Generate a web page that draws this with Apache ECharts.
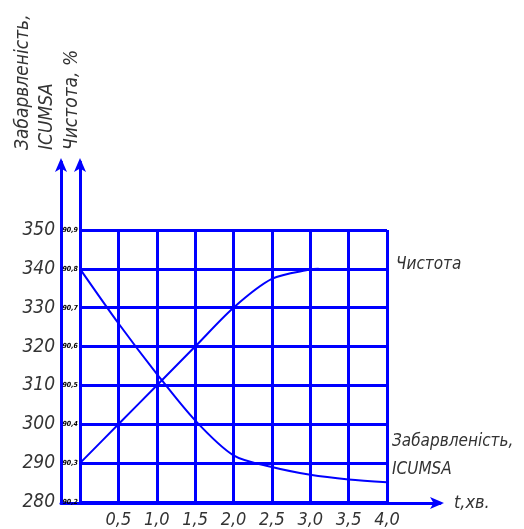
<!DOCTYPE html>
<html>
<head>
<meta charset="utf-8">
<script src="https://cdn.jsdelivr.net/npm/echarts@6/dist/echarts.min.js"></script>
<style>
	html, body { margin: 0; padding: 0; background: #fff; }
	#chart { width: 524px; height: 529px; }
</style>
</head>
<body>
<div id="chart"></div>
<script>
// час, хв
var timeTicks = [0, 0.5, 1.0, 1.5, 2.0, 2.5, 3.0, 3.5, 4.0];
// Забарвленість, ICUMSA
var colorTime = [0, 0.5, 1.0, 1.5, 2.0, 2.5, 3.0, 3.5, 4.0];
var colorValues = [340, 326, 313, 301, 292, 289, 287, 285.8, 285.1];
// Чистота, %
var purityTime = [0, 0.5, 1.0, 1.5, 2.0, 2.5, 3.0, 3.11];
var purityValues = [90.3, 90.4, 90.5, 90.6, 90.7, 90.774, 90.798, 90.8];
// підписи
var colorTicks = [280, 290, 300, 310, 320, 330, 340, 350];
var purityTicks = [90.2, 90.3, 90.4, 90.5, 90.6, 90.7, 90.8, 90.9];

var BLUE = "#0000ff";
var FONT = '"DejaVu Sans Condensed", "Liberation Sans Narrow", "DejaVu Sans", sans-serif';

function pairs(xs, ys) {
	return xs.map(function (x, i) {
		return [x, ys[i]];
	});
}

var myChart = echarts.init(document.getElementById("chart"), null, {
	renderer: "canvas"
});

var arrowLine = {
	show: true,
	symbol: ["none", "arrow"],
	symbolSize: [9, 14],
	symbolOffset: [0, 4],
	lineStyle: { color: BLUE, width: 3 }
};

var option = {
	animation: false,
	grid: [
		// сітка з даними
		{ left: 80, right: 137, top: 230, bottom: 26 },
		// осі зі стрілками
		{ left: 61, right: 84, top: 162, bottom: 26 }
	],
	xAxis: [
		{
			type: "value",
			gridIndex: 0,
			min: 0,
			max: 4,
			interval: 0.5,
			axisLine: { show: false },
			axisTick: { show: false },
			axisLabel: {
				margin: 9,
				fontSize: 18,
				fontStyle: "italic",
				fontFamily: FONT,
				color: "#333",
				formatter: function (v) {
					return v === 0 ? "" : v.toFixed(1).replace(".", ",");
				}
			},
			splitLine: { show: true, lineStyle: { color: BLUE, width: 3 } }
		},
		{
			type: "value",
			gridIndex: 1,
			min: 0,
			max: 1,
			axisLine: arrowLine,
			axisTick: { show: false },
			axisLabel: { show: false },
			splitLine: { show: false },
			name: "t,хв.",
			nameLocation: "end",
			nameGap: 14,
			nameTextStyle: {
				fontSize: 18,
				fontStyle: "italic",
				fontFamily: FONT,
				color: "#333",
				verticalAlign: "middle"
			}
		}
	],
	yAxis: [
		{
			type: "value",
			gridIndex: 0,
			position: "left",
			offset: 19,
			min: 280,
			max: 350,
			interval: 10,
			axisLine: { show: false },
			axisTick: { show: false },
			axisLabel: {
				margin: 6,
				fontSize: 19,
				fontStyle: "italic",
				fontFamily: FONT,
				color: "#333"
			},
			splitLine: { show: true, lineStyle: { color: BLUE, width: 3 } }
		},
		{
			type: "value",
			gridIndex: 0,
			position: "left",
			offset: 0,
			min: 90.2,
			max: 90.9,
			interval: 0.1,
			axisLine: { show: false },
			axisTick: { show: false },
			axisLabel: {
				margin: 2,
				fontSize: 7,
				fontStyle: "italic",
				fontWeight: "bold",
				fontFamily: FONT,
				color: "#000",
				formatter: function (v) {
					return v.toFixed(1).replace(".", ",");
				}
			},
			splitLine: { show: false }
		},
		{
			type: "value",
			gridIndex: 1,
			position: "left",
			offset: 0,
			min: 0,
			max: 1,
			axisLine: arrowLine,
			axisTick: { show: false },
			axisLabel: { show: false },
			splitLine: { show: false }
		},
		{
			type: "value",
			gridIndex: 1,
			position: "left",
			offset: -19,
			min: 0,
			max: 1,
			axisLine: arrowLine,
			axisTick: { show: false },
			axisLabel: { show: false },
			splitLine: { show: false }
		}
	],
	series: [
		{
			name: "Забарвленість",
			type: "line",
			xAxisIndex: 0,
			yAxisIndex: 0,
			smooth: 0.3,
			showSymbol: false,
			lineStyle: { color: BLUE, width: 2 },
			data: pairs(colorTime, colorValues)
		},
		{
			name: "Чистота",
			type: "line",
			xAxisIndex: 0,
			yAxisIndex: 1,
			smooth: 0.3,
			showSymbol: false,
			lineStyle: { color: BLUE, width: 2 },
			data: pairs(purityTime, purityValues)
		}
	],
	graphic: [
		{
			type: "text",
			x: 23,
			y: 150,
			rotation: Math.PI / 2,
			style: {
				text: "Забарвленість,",
				align: "left",
				verticalAlign: "middle",
				fontSize: 19,
				fontStyle: "italic",
				fontFamily: FONT,
				fill: "#333"
			}
		},
		{
			type: "text",
			x: 47,
			y: 150,
			rotation: Math.PI / 2,
			style: {
				text: "ICUMSA",
				align: "left",
				verticalAlign: "middle",
				fontSize: 19,
				fontStyle: "italic",
				fontFamily: FONT,
				fill: "#333"
			}
		},
		{
			type: "text",
			x: 72,
			y: 150,
			rotation: Math.PI / 2,
			style: {
				text: "Чистота, %",
				align: "left",
				verticalAlign: "middle",
				fontSize: 19,
				fontStyle: "italic",
				fontFamily: FONT,
				fill: "#333"
			}
		},
		{
			type: "text",
			x: 396,
			y: 265,
			style: {
				text: "Чистота",
				align: "left",
				verticalAlign: "middle",
				fontSize: 17,
				fontStyle: "italic",
				fontFamily: FONT,
				fill: "#333"
			}
		},
		{
			type: "text",
			x: 392,
			y: 442,
			style: {
				text: "Забарвленість,",
				align: "left",
				verticalAlign: "middle",
				fontSize: 17,
				fontStyle: "italic",
				fontFamily: FONT,
				fill: "#333"
			}
		},
		{
			type: "text",
			x: 392,
			y: 470,
			style: {
				text: "ICUMSA",
				align: "left",
				verticalAlign: "middle",
				fontSize: 17,
				fontStyle: "italic",
				fontFamily: FONT,
				fill: "#333"
			}
		}
	]
};
myChart.setOption(option);
window.addEventListener("resize", myChart.resize);
</script>
</body>
</html>
